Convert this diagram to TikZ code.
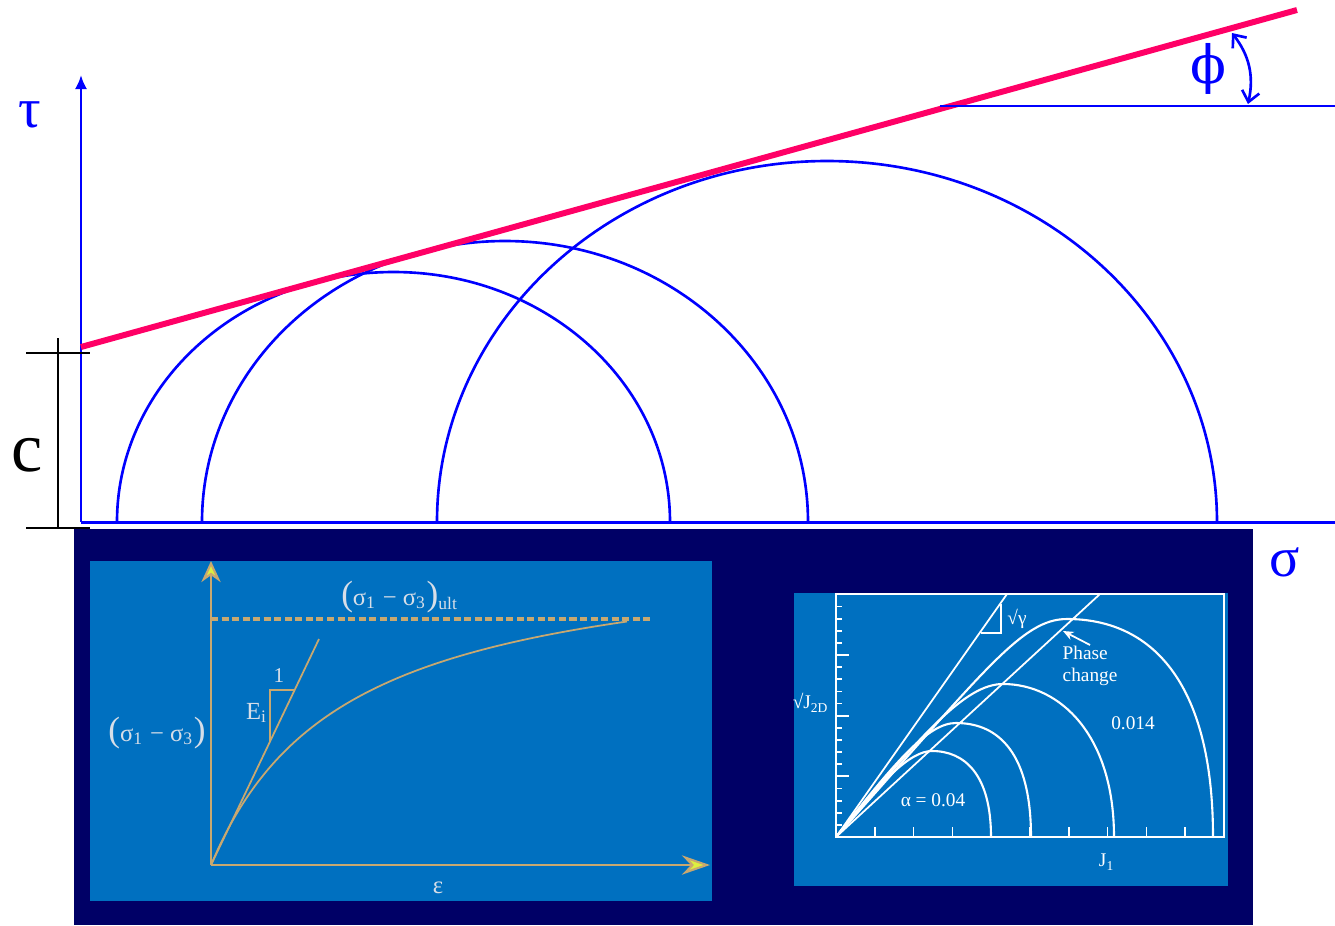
\documentclass[tikz,border=0pt]{standalone}
\usepackage{fontspec}
\setmainfont{Liberation Serif}
\newfontfamily\fisimbolo{DejaVu Serif}
\usetikzlibrary{arrows.meta}
\definecolor{ejeazul}{RGB}{0,0,255}
\definecolor{rosa}{RGB}{255,0,102}
\definecolor{marino}{RGB}{0,0,102}
\definecolor{panel}{RGB}{0,112,192}
\definecolor{ocre}{RGB}{200,168,112}
\definecolor{amarillo}{RGB}{221,240,64}
\definecolor{gris}{RGB}{215,222,232}
\tikzset{
  mohr/.style={ejeazul, line width=0.75pt},
  ocrelinea/.style={ocre, line width=0.6pt},
  blanco/.style={white, line width=0.5pt},
  rotulo/.style={white, font=\fontsize{5.5}{6.5}\selectfont, inner sep=0pt},
  rotgris/.style={gris, font=\fontsize{7}{7}\selectfont, inner sep=0pt}
}
\begin{document}
\begin{tikzpicture}[x=0.1mm, y=-0.1mm]
  \useasboundingbox (0,0) rectangle (1335,925);

  % Recuadro inferior
  \fill[marino] (74,529) rectangle (1253,925);
  \fill[panel] (90,561) rectangle (712,901);
  \fill[panel] (794,593) rectangle (1228,886);

  % Ejes tau - sigma
  \draw[ejeazul, line width=0.85pt, -{Latex[length=4pt,width=3.5pt]}] (81,522) -- (81,75);
  \draw[ejeazul, line width=0.85pt] (81,522) -- (1335,522);
  \node[ejeazul, font=\fontsize{16}{16}\selectfont] (tau) at (30,115) {τ};
  \node[ejeazul, font=\fontsize{16}{16}\selectfont] (sigma) at (1285,562) {σ};

  % Circulos de Mohr
  \draw[mohr] (117,522) arc[start angle=180, end angle=0, x radius=2.765cm, y radius=2.5cm];
  \draw[mohr] (202,522) arc[start angle=180, end angle=0, x radius=3.03cm, y radius=2.81cm];
  \draw[mohr] (437,522) arc[start angle=180, end angle=0, x radius=3.9cm, y radius=3.61cm];

  % Envolvente de falla
  \draw[rosa, line width=1.7pt] (81,347) -- (1297,10);
  \draw[mohr] (940,106) -- (1335,106);
  \draw[mohr, {Straight Barb[length=3pt,width=5pt]}-{Straight Barb[length=3pt,width=5pt]}] (1232,33) to[bend left=25] (1248,104);
  \node[ejeazul, font=\fontsize{15}{15}\fisimbolo] (phi) at (1208,69) {ϕ};

  % Cohesion
  \draw[line width=0.6pt] (26,353) -- (90,353);
  \draw[line width=0.6pt] (26,528) -- (90,528);
  \draw[line width=0.6pt] (58,338) -- (58,528);
  \node[font=\fontsize{20}{20}\selectfont] (coh) at (27,455) {c};

  % Curva esfuerzo - deformacion
  \coordinate (o1) at (211,865);
  \draw[ocrelinea, -{Stealth[length=6pt,width=5.5pt,fill=amarillo]}] (o1) -- (211,561);
  \draw[ocrelinea, -{Stealth[length=8pt,width=5.5pt,fill=amarillo]}] (o1) -- (710,865);
  \draw[ocre, line width=1pt, dash pattern=on 2pt off 1pt] (211,619) -- (653,619);
  \draw[ocre, line width=0.5pt] (o1) -- (319,639);
  \draw[ocre, line width=0.5pt] plot[domain=0:416, samples=60, smooth] ({211+\x},{865-\x/(0.42+0.0031*\x)});
  \draw[ocrelinea] (270,741) -- (270,690) -- (295,690);
  \node[rotgris] (dev) at (157,733) {{\fontsize{10}{10}\selectfont(}σ\textsubscript{1} − σ\textsubscript{3}{\fontsize{10}{10}\selectfont)}};
  \node[rotgris] (ult) at (400,597) {{\fontsize{10}{10}\selectfont(}σ\textsubscript{1} − σ\textsubscript{3}{\fontsize{10}{10}\selectfont)}\textsubscript{ult}};
  \node[rotgris, font=\fontsize{6}{6}\selectfont] (uno) at (279,676) {1};
  \node[rotgris] (ei) at (257,713) {E\textsubscript{i}};
  \node[rotgris] (eps) at (438,888) {ε};

  % Superficies de fluencia
  \coordinate (o2) at (836,837);
  \draw[blanco] (836,594) rectangle (1224,837);
  \foreach \k in {1,2,3,4,6,7,8,9,11,12,13,14,16,17,18,19}
    \draw[blanco] (836,{837-12.13*\k}) -- ++(6,0);
  \foreach \k in {5,10,15}
    \draw[blanco] (836,{837-12.13*\k}) -- ++(13,0);
  \foreach \k in {1,...,9}
    \draw[blanco] ({836+38.8*\k},837) -- ++(0,-10);
  \draw[blanco] (o2) -- (1007,594);
  \draw[blanco] (o2) -- (1100,594);
  \draw[blanco] (981,633) -- (1001,633) -- (1001,604);
  \draw[blanco, line width=0.6pt] (o2) .. controls (881,781) and (910,751) .. (932,751) .. controls (965,751) and (991,775) .. (991,837);
  \draw[blanco, line width=0.6pt] (o2) .. controls (896,761) and (928,723) .. (956,723) .. controls (1000,723) and (1031,755) .. (1031,837);
  \draw[blanco, line width=0.6pt] (o2) .. controls (921,735) and (965,684) .. (1003,684) .. controls (1060,684) and (1114,735) .. (1114,837);
  \draw[blanco, line width=0.6pt] (o2) .. controls (986,669) and (1022,619) .. (1067,619) .. controls (1150,619) and (1213,680) .. (1213,837);
  \node[rotulo, anchor=north west, align=left] (fase) at (1062,645) {Phase\\change};
  \coordinate (cambio) at (1063,631);
  \draw[blanco, -{Stealth[length=3pt,width=2.5pt]}] (fase.north) -- (cambio);
  \node[rotulo] (a014) at (1133,723) {0.014};
  \node[rotulo] (a004) at (933,800) {α = 0.04};
  \node[rotulo] (j1) at (1107,862) {J\textsubscript{1}};
  \node[rotulo] (j2d) at (811,703) {√J\textsubscript{2D}};
  \node[rotulo] (gam) at (1017,619) {√γ};
\end{tikzpicture}
\end{document}
